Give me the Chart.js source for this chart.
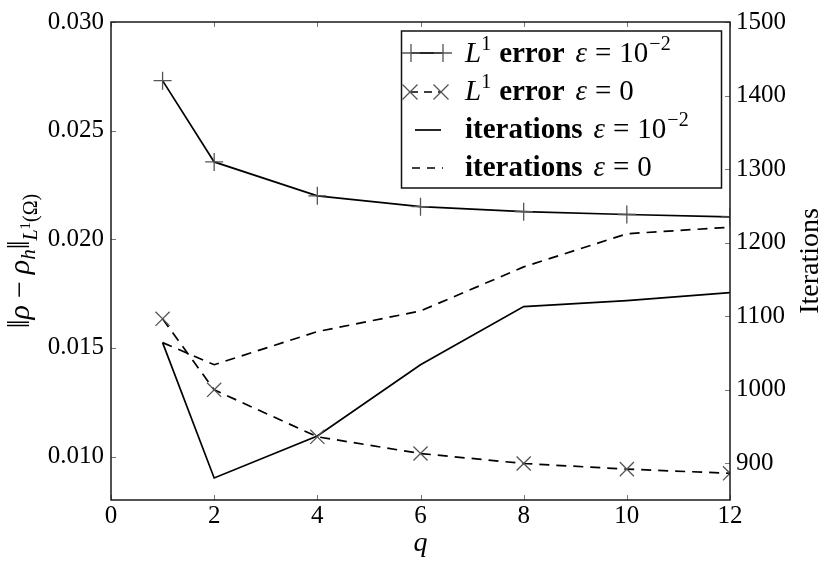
<!DOCTYPE html>
<html><head><meta charset="utf-8">
<script src="https://cdn.jsdelivr.net/npm/chart.js@4/dist/chart.umd.min.js"></script>
<style>html,body{margin:0;padding:0;background:#fff;}#wrap{width:831px;height:569px;}</style>
</head><body><div id="wrap"><canvas id="c" width="831" height="569"></canvas></div>
<script>
// ---- data ----
const qValues = [1, 2, 4, 6, 8, 10, 12];
const errEps2 = [0.0273, 0.02356, 0.0220, 0.0215, 0.02127, 0.02114, 0.02103];
const errEps0 = [0.01634, 0.01307, 0.01091, 0.01014, 0.00968, 0.00942, 0.00923];
const iterEps2 = [1064, 880, 937, 1034, 1113, 1121, 1132];
const iterEps0 = [1064, 1034, 1079, 1107, 1167, 1212, 1221];
const xTicks = [0, 2, 4, 6, 8, 10, 12];
const leftTicks = [0.010, 0.015, 0.020, 0.025, 0.030];
const rightTicks = [900, 1000, 1100, 1200, 1300, 1400, 1500];

const SERIF = "'Liberation Serif', 'DejaVu Serif', serif";
const tickFont = {family: SERIF, size: 25};

function pts(ys){ return qValues.map((q,i)=>({x:q, y:ys[i]})); }

function drawRich(ctx, x, y, segs){
  for (const s of segs){
    if (s.gap){ x += s.gap; continue; }
    ctx.font = s.f;
    ctx.fillText(s.t, x, y + (s.dy||0));
    x += ctx.measureText(s.t).width;
  }
  return x;
}
function richWidth(ctx, segs){
  let w = 0;
  for (const s of segs){
    if (s.gap){ w += s.gap; continue; }
    ctx.font = s.f; w += ctx.measureText(s.t).width;
  }
  return w;
}
const F = (st, sz)=> `${st} ${sz}px ${SERIF}`;

function plus(ctx,x,y,r){ ctx.beginPath(); ctx.moveTo(x-r,y); ctx.lineTo(x+r,y); ctx.moveTo(x,y-r); ctx.lineTo(x,y+r); ctx.stroke(); }
function cross(ctx,x,y,r){ const d=r*0.75; ctx.beginPath(); ctx.moveTo(x-d,y-d); ctx.lineTo(x+d,y+d); ctx.moveTo(x+d,y-d); ctx.lineTo(x-d,y+d); ctx.stroke(); }

const frame = {
  id: 'frame',
  afterDraw(chart){
    const {ctx, chartArea: a, scales} = chart;
    ctx.save();
    // inside tick marks
    ctx.strokeStyle = '#777'; ctx.lineWidth = 1;
    const L = (x1,y1,x2,y2)=>{ ctx.beginPath(); ctx.moveTo(x1,y1); ctx.lineTo(x2,y2); ctx.stroke(); };
    for (const v of xTicks){ const px = Math.round(scales.x.getPixelForValue(v))+0.5; L(px,a.bottom,px,a.bottom-5); L(px,a.top,px,a.top+5); }
    for (const v of leftTicks){ const py = Math.round(scales.y.getPixelForValue(v))+0.5; L(a.left,py,a.left+5,py); }
    for (const v of rightTicks){ const py = Math.round(scales.y1.getPixelForValue(v))+0.5; L(a.right,py,a.right-5,py); }
    // spines
    ctx.strokeStyle = '#1a1a1a'; ctx.lineWidth = 1.5;
    ctx.strokeRect(a.left, a.top, a.right-a.left, a.bottom-a.top);

    // legend
    const bx = 401.5, by = 31, bw = 320, bh = 157;
    ctx.fillStyle = '#fff'; ctx.fillRect(bx, by, bw, bh);
    ctx.strokeStyle = '#111'; ctx.lineWidth = 1.5; ctx.strokeRect(bx, by, bw, bh);
    const rows = [53, 92, 130, 168];
    // handles
    ctx.strokeStyle = '#000'; ctx.lineWidth = 1.7; ctx.setLineDash([]);
    L(411, rows[0], 443, rows[0]);
    ctx.strokeStyle = '#555'; ctx.lineWidth = 1.3; plus(ctx,411,rows[0],9); plus(ctx,443,rows[0],9);
    ctx.strokeStyle = '#000'; ctx.lineWidth = 1.7; ctx.setLineDash([8,6]);
    L(410, rows[1], 441, rows[1]);
    ctx.setLineDash([]); ctx.strokeStyle = '#555'; ctx.lineWidth = 1.3; cross(ctx,410,rows[1],10); cross(ctx,441,rows[1],10);
    ctx.strokeStyle = '#000'; ctx.lineWidth = 1.7;
    L(415, rows[2], 441, rows[2]);
    ctx.setLineDash([8,7]); L(412, rows[3], 443, rows[3]); ctx.setLineDash([]);
    // texts
    ctx.fillStyle = '#000'; ctx.textBaseline = 'alphabetic'; ctx.textAlign = 'left';
    const tx = 465, base = [62, 100, 138, 176];
    const tail2 = [{gap:11},{t:'ε',f:F('italic',29)},{gap:8},{t:'=',f:F('normal',29)},{gap:8},{t:'10',f:F('normal',29)},{gap:1},{t:'−2',f:F('normal',20),dy:-12}];
    const tail0 = [{gap:11},{t:'ε',f:F('italic',29)},{gap:8},{t:'=',f:F('normal',29)},{gap:8},{t:'0',f:F('normal',29)}];
    const l1 = [{t:'L',f:F('italic',29)},{t:'1',f:F('normal',20),dy:-12},{gap:8},{t:'error',f:F('bold',29)}];
    const it = [{t:'iterations',f:F('bold',29)}];
    drawRich(ctx, tx, base[0], l1.concat(tail2));
    drawRich(ctx, tx, base[1], l1.concat(tail0));
    drawRich(ctx, tx, base[2], it.concat(tail2));
    drawRich(ctx, tx, base[3], it.concat(tail0));

    // axis titles
    const ylab = [{t:'‖',f:F('normal',31)},{t:'ρ',f:F('italic',30)},{gap:7},{t:'−',f:F('normal',30)},{gap:7},{t:'ρ',f:F('italic',30)},{t:'h',f:F('italic',21),dy:6},{t:'‖',f:F('normal',31)},{t:'L',f:F('italic',20),dy:8},{t:'1',f:F('normal',15),dy:1},{t:'(Ω)',f:F('normal',20),dy:8}];
    const cy = (a.top + a.bottom)/2;
    ctx.save(); ctx.translate(29, cy); ctx.rotate(-Math.PI/2);
    drawRich(ctx, -richWidth(ctx, ylab)/2, 0, ylab); ctx.restore();
    const rlab = [{t:'Iterations',f:F('normal',28)}];
    ctx.save(); ctx.translate(818, cy); ctx.rotate(-Math.PI/2);
    drawRich(ctx, -richWidth(ctx, rlab)/2, 0, rlab); ctx.restore();
    ctx.font = F('italic',28); ctx.textAlign = 'center';
    ctx.fillText('q', (a.left+a.right)/2, 551);
    ctx.restore();
  }
};

const common = {borderColor:'#000', borderWidth:1.7, tension:0, fill:false, pointBackgroundColor:'rgba(0,0,0,0)'};
new Chart(document.getElementById('c'), {
  type: 'line',
  data: { datasets: [
    Object.assign({label:'L1 error eps=1e-2', data: pts(errEps2), yAxisID:'y', pointStyle:'cross', pointRadius:9, pointBorderColor:'#555', pointBorderWidth:1.3}, common),
    Object.assign({label:'L1 error eps=0', data: pts(errEps0), yAxisID:'y', pointStyle:'crossRot', pointRadius:10, pointBorderColor:'#555', pointBorderWidth:1.3, borderDash:[10,7]}, common),
    Object.assign({label:'iterations eps=1e-2', data: pts(iterEps2), yAxisID:'y1', pointRadius:0}, common),
    Object.assign({label:'iterations eps=0', data: pts(iterEps0), yAxisID:'y1', pointRadius:0, borderDash:[10,7]}, common)
  ]},
  options: {
    responsive:false, animation:false, devicePixelRatio:1,
    layout:{padding:{top:22, left:0, right:0, bottom:0}},
    plugins:{legend:{display:false}, tooltip:{enabled:false}},
    scales:{
      x:{type:'linear', min:0, max:12,
         afterBuildTicks:s=>{s.ticks = xTicks.map(v=>({value:v}));},
         afterFit:s=>{s.height = 69;},
         grid:{display:false, drawTicks:false}, border:{display:false},
         ticks:{font:tickFont, color:'#000', padding:1, autoSkip:false, maxRotation:0, callback:v=>String(v)}},
      y:{type:'linear', position:'left', min:0.008, max:0.030,
         afterBuildTicks:s=>{s.ticks = leftTicks.map(v=>({value:v}));},
         afterFit:s=>{s.width = 111;},
         grid:{display:false, drawTicks:false}, border:{display:false},
         ticks:{font:tickFont, color:'#000', padding:7, autoSkip:false, callback:v=>Number(v).toFixed(3)}},
      y1:{type:'linear', position:'right', min:850, max:1500,
         afterBuildTicks:s=>{s.ticks = rightTicks.map(v=>({value:v}));},
         afterFit:s=>{s.width = 101;},
         grid:{display:false, drawTicks:false}, border:{display:false},
         ticks:{font:tickFont, color:'#000', padding:6, autoSkip:false, callback:v=>String(v)}}
    }
  },
  plugins:[frame]
});
</script></body></html>
